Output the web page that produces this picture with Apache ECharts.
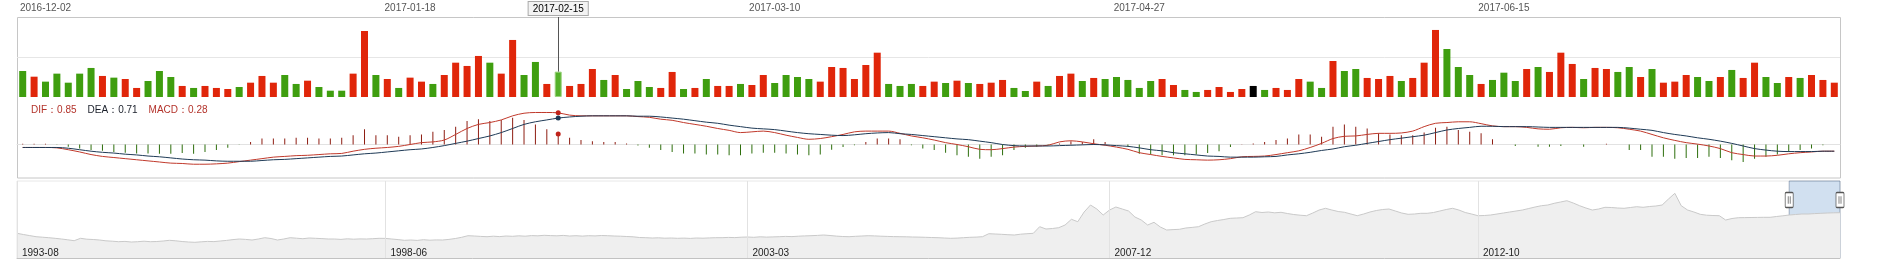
<!DOCTYPE html>
<html><head><meta charset="utf-8">
<script src="https://cdn.jsdelivr.net/npm/echarts@6/dist/echarts.min.js"></script>
<style>html,body{margin:0;padding:0;background:#fff}#c{width:1881px;height:280px}</style>
</head><body><div id="c"></div>
<script>
// ---------- data ----------
const dates = [
'2016-11-30',
'2016-12-01','2016-12-02','2016-12-05','2016-12-06','2016-12-07','2016-12-08','2016-12-09','2016-12-12','2016-12-13','2016-12-14','2016-12-15','2016-12-16','2016-12-19','2016-12-20','2016-12-21','2016-12-22','2016-12-23','2016-12-26','2016-12-27','2016-12-28','2016-12-29','2016-12-30',
'2017-01-03','2017-01-04','2017-01-05','2017-01-06','2017-01-09','2017-01-10','2017-01-11','2017-01-12','2017-01-13','2017-01-16','2017-01-17','2017-01-18','2017-01-19','2017-01-20','2017-01-23','2017-01-24','2017-01-25','2017-01-26',
'2017-02-03','2017-02-06','2017-02-07','2017-02-08','2017-02-09','2017-02-10','2017-02-13','2017-02-14','2017-02-15','2017-02-16','2017-02-17','2017-02-20','2017-02-21','2017-02-22','2017-02-23','2017-02-24','2017-02-27','2017-02-28',
'2017-03-01','2017-03-02','2017-03-03','2017-03-06','2017-03-07','2017-03-08','2017-03-09','2017-03-10','2017-03-13','2017-03-14','2017-03-15','2017-03-16','2017-03-17','2017-03-20','2017-03-21','2017-03-22','2017-03-23','2017-03-24','2017-03-27','2017-03-28','2017-03-29','2017-03-30','2017-03-31',
'2017-04-05','2017-04-06','2017-04-07','2017-04-10','2017-04-11','2017-04-12','2017-04-13','2017-04-14','2017-04-17','2017-04-18','2017-04-19','2017-04-20','2017-04-21','2017-04-24','2017-04-25','2017-04-26','2017-04-27','2017-04-28',
'2017-05-02','2017-05-03','2017-05-04','2017-05-05','2017-05-08','2017-05-09','2017-05-10','2017-05-11','2017-05-12','2017-05-15','2017-05-16','2017-05-17','2017-05-18','2017-05-19','2017-05-22','2017-05-23','2017-05-24','2017-05-25','2017-05-26','2017-05-31',
'2017-06-01','2017-06-02','2017-06-05','2017-06-06','2017-06-07','2017-06-08','2017-06-09','2017-06-12','2017-06-13','2017-06-14','2017-06-15','2017-06-16','2017-06-19','2017-06-20','2017-06-21','2017-06-22','2017-06-23','2017-06-26','2017-06-27','2017-06-28','2017-06-29','2017-06-30',
'2017-07-03','2017-07-04','2017-07-05','2017-07-06','2017-07-07','2017-07-10','2017-07-11','2017-07-12','2017-07-13','2017-07-14','2017-07-17','2017-07-18','2017-07-19','2017-07-20','2017-07-21','2017-07-24','2017-07-25','2017-07-26'
];

const volume = [
32.5,25.4,19.2,29.2,17.9,29.2,36.3,26.3,24.2,22.5,
11.3,20.0,32.5,25.0,13.8,11.3,13.8,11.3,10.0,12.5,
17.9,26.3,17.9,27.5,16.3,20.4,12.5,7.9,7.9,29.2,
82.5,27.5,22.5,11.3,24.2,19.2,16.3,27.5,42.9,38.8,
51.3,42.9,29.2,71.3,27.5,43.8,16.3,31.7,13.8,16.3,
35.0,21.3,27.5,10.0,20.0,12.5,11.3,31.3,10.0,11.3,
22.5,13.8,13.8,16.3,15.0,27.5,17.5,27.5,25.0,22.5,
19.2,37.5,36.3,22.5,40.0,55.4,16.3,13.8,16.3,13.8,
19.2,17.5,20.4,17.5,16.3,17.9,21.3,11.3,7.5,19.2,
13.8,26.3,29.2,20.0,23.8,22.5,25.0,21.3,11.3,20.0,
22.5,15.0,8.8,6.3,8.8,12.5,6.3,10.0,13.8,8.8,
11.3,8.8,22.5,19.2,11.3,45.0,32.5,35.0,23.8,22.5,
26.3,20.0,23.8,42.9,83.8,60.0,37.5,27.5,16.3,21.3,
30.4,20.0,35.0,37.5,31.3,55.4,41.3,22.5,36.3,35.0,
31.3,37.5,25.0,35.0,17.9,19.2,27.5,25.0,20.0,25.0,
33.8,23.8,42.9,25.0,17.5,25.0,23.8,27.5,21.3,17.9
];

// 1 = up day, -1 = down day, 0 = unchanged
const direction = [
-1,1,-1,-1,-1,-1,-1,1,-1,1,
1,-1,-1,-1,1,-1,1,1,1,-1,
1,1,1,-1,-1,1,-1,-1,-1,1,
1,-1,1,-1,1,1,-1,1,1,1,
1,-1,1,1,-1,-1,1,-1,1,1,
1,-1,1,-1,-1,-1,1,1,-1,1,
-1,1,1,-1,1,1,-1,-1,-1,-1,
1,1,1,1,1,1,-1,-1,-1,1,
1,-1,1,-1,1,1,1,-1,-1,1,
-1,1,1,-1,1,-1,-1,-1,-1,-1,
1,1,-1,-1,1,1,1,1,0,-1,
1,1,1,-1,-1,1,-1,-1,1,1,
1,-1,1,1,1,-1,-1,-1,1,-1,
-1,-1,1,-1,1,1,1,-1,1,1,
-1,-1,1,-1,1,1,1,-1,-1,1,
-1,1,1,-1,-1,1,-1,1,1,1
];

const dif = [
-0.08,-0.08,-0.08,-0.09,-0.14,-0.20,-0.27,-0.32,-0.35,-0.38,
-0.41,-0.44,-0.47,-0.50,-0.51,-0.53,-0.53,-0.52,-0.50,-0.46,
-0.42,-0.38,-0.34,-0.32,-0.30,-0.29,-0.27,-0.25,-0.24,-0.18,
-0.13,-0.10,-0.08,-0.05,0.00,0.05,0.07,0.12,0.27,0.43,
0.54,0.59,0.66,0.77,0.84,0.86,0.86,0.85,0.79,0.77,
0.77,0.77,0.77,0.77,0.75,0.73,0.68,0.65,0.59,0.54,
0.49,0.43,0.38,0.32,0.34,0.36,0.32,0.25,0.19,0.14,
0.16,0.21,0.27,0.34,0.36,0.36,0.36,0.30,0.23,0.18,
0.12,0.05,0.00,-0.06,-0.13,-0.14,-0.11,-0.07,-0.05,-0.04,
-0.02,0.07,0.10,0.07,0.02,-0.02,-0.07,-0.13,-0.22,-0.27,
-0.32,-0.36,-0.40,-0.41,-0.42,-0.41,-0.38,-0.33,-0.32,-0.31,
-0.27,-0.22,-0.17,-0.08,0.03,0.16,0.22,0.23,0.27,0.30,
0.30,0.31,0.36,0.48,0.57,0.59,0.61,0.61,0.56,0.50,
0.48,0.48,0.46,0.42,0.41,0.45,0.46,0.45,0.46,0.46,
0.45,0.41,0.36,0.27,0.18,0.11,0.05,0.01,-0.04,-0.11,
-0.22,-0.27,-0.31,-0.31,-0.29,-0.25,-0.22,-0.20,-0.18,-0.18
];

const dea = [
-0.08,-0.08,-0.08,-0.08,-0.10,-0.14,-0.18,-0.21,-0.23,-0.26,
-0.28,-0.31,-0.33,-0.36,-0.39,-0.41,-0.42,-0.44,-0.45,-0.45,
-0.45,-0.43,-0.41,-0.40,-0.38,-0.36,-0.34,-0.32,-0.31,-0.28,
-0.25,-0.23,-0.20,-0.17,-0.14,-0.12,-0.08,-0.03,0.03,0.09,
0.16,0.23,0.32,0.43,0.54,0.61,0.66,0.71,0.74,0.76,
0.77,0.77,0.77,0.77,0.76,0.76,0.74,0.71,0.68,0.64,
0.60,0.57,0.52,0.48,0.44,0.42,0.40,0.36,0.32,0.29,
0.27,0.25,0.24,0.26,0.29,0.31,0.32,0.29,0.27,0.24,
0.21,0.18,0.15,0.13,0.09,0.05,0.00,-0.03,-0.04,-0.04,
-0.04,-0.03,-0.02,-0.01,0.00,-0.01,-0.03,-0.05,-0.09,-0.14,
-0.17,-0.22,-0.25,-0.28,-0.31,-0.32,-0.34,-0.34,-0.34,-0.33,
-0.32,-0.28,-0.25,-0.21,-0.16,-0.12,-0.06,-0.02,0.03,0.08,
0.13,0.17,0.21,0.25,0.32,0.39,0.43,0.46,0.49,0.49,
0.48,0.48,0.48,0.47,0.46,0.46,0.46,0.46,0.46,0.46,
0.46,0.44,0.41,0.38,0.32,0.27,0.23,0.18,0.14,0.09,
0.03,-0.04,-0.11,-0.15,-0.18,-0.19,-0.19,-0.19,-0.18,-0.18
];

const macd = [
0.02,0.02,0.02,-0.01,-0.06,-0.11,-0.15,-0.17,-0.20,-0.22,
-0.24,-0.24,-0.25,-0.25,-0.23,-0.25,-0.20,-0.15,-0.09,-0.01,
0.07,0.16,0.16,0.16,0.18,0.18,0.16,0.16,0.18,0.25,
0.41,0.25,0.25,0.21,0.25,0.27,0.34,0.39,0.48,0.63,
0.68,0.63,0.66,0.72,0.66,0.54,0.41,0.28,0.18,0.12,
0.09,0.07,0.07,0.03,-0.03,-0.09,-0.15,-0.20,-0.24,-0.24,
-0.27,-0.27,-0.29,-0.29,-0.24,-0.22,-0.22,-0.24,-0.27,-0.29,
-0.27,-0.14,-0.07,-0.02,0.07,0.16,0.16,0.14,-0.02,-0.11,
-0.15,-0.22,-0.29,-0.33,-0.38,-0.33,-0.29,-0.15,-0.09,-0.06,
-0.02,0.03,0.09,0.07,0.14,0.07,0.00,-0.06,-0.25,-0.27,
-0.29,-0.29,-0.29,-0.27,-0.23,-0.18,-0.07,0.01,0.03,0.07,
0.12,0.16,0.27,0.27,0.21,0.48,0.54,0.48,0.43,0.30,
0.27,0.25,0.25,0.32,0.45,0.48,0.39,0.34,0.30,0.14,
0.00,-0.04,0.00,-0.06,-0.06,-0.04,0.00,-0.06,0.00,0.02,
0.00,-0.15,-0.15,-0.33,-0.33,-0.38,-0.36,-0.36,-0.33,-0.36,
-0.42,-0.47,-0.38,-0.33,-0.27,-0.20,-0.15,-0.11,-0.02,0.00
];

// navigator: monthly closes from 1993-08
const navStart = '1993-08';
const navClose = [
247,235,224,213,208,203,197,190,182,173,197,188,
185,180,172,168,163,166,160,163,168,163,165,170,
177,172,165,160,157,162,166,164,170,176,184,190,
186,180,190,203,195,180,190,203,198,193,200,197,
194,190,190,186,192,188,191,190,193,197,196,190,
184,177,180,176,183,178,181,180,186,195,207,223,
220,216,213,218,214,220,217,222,218,224,222,227,
224,222,226,220,223,219,223,221,225,223,220,218,
215,212,205,203,200,202,198,200,197,199,196,200,
198,201,203,203,206,204,208,210,207,212,209,211,
213,216,214,218,221,223,226,230,225,219,215,213,
217,220,223,221,218,216,214,213,212,210,209,207,
205,203,200,197,199,203,207,209,213,243,240,237,
233,230,238,243,247,313,290,295,303,330,387,363,
460,530,490,430,480,510,490,470,410,380,330,357,
310,280,284,287,300,306,313,340,363,375,385,397,
400,403,430,463,455,460,452,457,445,435,428,423,
450,480,497,480,465,457,440,423,440,460,475,485,
490,470,450,437,440,447,447,455,470,485,497,480,
455,440,423,425,430,440,450,460,470,480,495,510,
523,530,547,560,573,550,523,500,480,490,507,505,
500,497,505,513,507,515,520,530,590,647,523,480,
460,437,428,425,423,380,395,403,404,405,406,407,
407,415,422,430,435,440,440,444,447,450,452,453
];
const navLabels = ['1993-08','1998-06','2003-03','2007-12','2012-10'];
const windowStart = '2016-11', windowEnd = '2017-07';

const topLabelStart = 2, topLabelStep = 32;
const pointerIndex = 47, pointerLabel = '2017-02-15';

// ---------- derived ----------
const navMonths = [];
{
  let y = +navStart.slice(0,4), m = +navStart.slice(5,7);
  for (let i = 0; i < navClose.length; i++) {
    navMonths.push(y + '-' + String(m).padStart(2,'0'));
    m++; if (m > 12) { m = 1; y++; }
  }
}

const FONT = '"Liberation Sans", Arial, sans-serif';
const RED = '#e0260a', GREEN = '#3f9e0f', FLAT = '#000000';
const DIF_C = '#c0392b', DEA_C = '#1e3a56';
const VOL_MAX = 100;

const volData = volume.map((v, i) => {
  const c = direction[i] > 0 ? RED : direction[i] < 0 ? GREEN : FLAT;
  const item = { value: v, itemStyle: { color: c } };
  if (i === pointerIndex) item.itemStyle = { color: '#54b12a', borderColor: '#9bd27e', borderWidth: 1 };
  return item;
});
const macdData = macd.map(v => ({ value: v, itemStyle: { color: v >= 0 ? '#8e1d12' : '#2d6e0c' } }));

const p = pointerIndex;
const chart = echarts.init(document.getElementById('c'), null, { renderer: 'canvas' });
chart.setOption({
  animation: false,
  textStyle: { fontFamily: FONT },
  title: {
    left: 26, top: 100,
    text: '{a|DIF：' + dif[p].toFixed(2) + '}{b|DEA：' + dea[p].toFixed(2) + '}{c|MACD：' + macd[p].toFixed(2) + '}',
    textStyle: {
      fontSize: 10, fontWeight: 'normal', fontFamily: FONT,
      rich: {
        a: { color: '#b3322a', fontSize: 10, fontFamily: FONT },
        b: { color: '#1a1f2a', fontSize: 10, fontFamily: FONT, padding: [0, 0, 0, 11] },
        c: { color: '#b3322a', fontSize: 10, fontFamily: FONT, padding: [0, 0, 0, 11] }
      }
    }
  },
  graphic: [{
    type: 'rect', silent: true, z: 0,
    shape: { x: 17.5, y: 17.5, width: 1823, height: 160.5 },
    style: { fill: 'none', stroke: '#c6c6c6', lineWidth: 1 }
  }],
  grid: [
    { left: 17, right: 41, top: 17, height: 80 },
    { left: 17, right: 41, top: 111, height: 67 },
    { left: 17, right: 41, top: 181, height: 77, show: true, borderColor: '#e8e8e8', borderWidth: 1 }
  ],
  xAxis: [
    { type: 'category', gridIndex: 0, data: dates, position: 'top', boundaryGap: true,
      axisLine: { show: false }, axisTick: { show: false }, splitLine: { show: false },
      axisLabel: { interval: (i) => (i - topLabelStart) % topLabelStep === 0, color: '#555', fontSize: 10, margin: 4, fontFamily: FONT } },
    { type: 'category', gridIndex: 1, data: dates, boundaryGap: true,
      axisLine: { onZero: true, lineStyle: { color: '#e2e2e2', width: 1 } }, axisTick: { show: false },
      axisLabel: { show: false }, splitLine: { show: false } },
    { type: 'category', gridIndex: 2, data: navMonths, boundaryGap: false, z: 10,
      axisLine: { lineStyle: { color: '#c2c2c2' } }, axisTick: { show: false },
      axisLabel: { inside: true, interval: (i, v) => navLabels.includes(v), color: '#222', fontSize: 10,
        align: 'left', verticalAlign: 'bottom', padding: [0, 0, 0, 5], margin: 0, fontFamily: FONT },
      splitLine: { show: true, interval: (i, v) => navLabels.includes(v), lineStyle: { color: '#e2e2e2' } } }
  ],
  yAxis: [
    { type: 'value', gridIndex: 0, min: 0, max: VOL_MAX, interval: VOL_MAX / 2,
      axisLine: { show: false }, axisTick: { show: false }, axisLabel: { show: false },
      splitLine: { lineStyle: { color: ['rgba(0,0,0,0)', '#e6e6e6', 'rgba(0,0,0,0)'] } } },
    { type: 'value', gridIndex: 1, min: -0.9, max: 0.9, show: false },
    { type: 'value', gridIndex: 2, min: 0, max: 770, show: false }
  ],
  series: [
    { type: 'bar', name: 'volume', xAxisIndex: 0, yAxisIndex: 0, data: volData, barWidth: 7,
      markLine: {
        silent: true, symbol: ['none', 'none'], animation: false,
        lineStyle: { color: '#555', width: 1, type: 'solid' },
        label: { show: true, position: 'start', formatter: () => pointerLabel, distance: 2,
          color: '#000', fontSize: 10, fontFamily: FONT, backgroundColor: '#f3f3f3',
          borderColor: '#aaa', borderWidth: 1, padding: [2, 4, 1, 4] },
        data: [[{ coord: [dates[p], VOL_MAX] }, { coord: [dates[p], volume[p]] }]]
      } },
    { type: 'bar', name: 'MACD', xAxisIndex: 1, yAxisIndex: 1, data: macdData, barWidth: 1,
      markPoint: { silent: true, symbol: 'circle', symbolSize: 5, label: { show: false },
        itemStyle: { color: '#c0231a' }, data: [{ coord: [dates[p], macd[p]] }] } },
    { type: 'line', name: 'DIF', xAxisIndex: 1, yAxisIndex: 1, data: dif, showSymbol: false, smooth: 0.3,
      lineStyle: { color: DIF_C, width: 1 }, itemStyle: { color: DIF_C },
      markPoint: { silent: true, symbol: 'circle', symbolSize: 5, label: { show: false },
        itemStyle: { color: '#c0231a' }, data: [{ coord: [dates[p], dif[p]] }] } },
    { type: 'line', name: 'DEA', xAxisIndex: 1, yAxisIndex: 1, data: dea, showSymbol: false, smooth: 0.3,
      lineStyle: { color: DEA_C, width: 1 }, itemStyle: { color: DEA_C },
      markPoint: { silent: true, symbol: 'circle', symbolSize: 5, label: { show: false },
        itemStyle: { color: DEA_C }, data: [{ coord: [dates[p], dea[p]] }] } },
    { type: 'line', name: 'nav', xAxisIndex: 2, yAxisIndex: 2, data: navClose, showSymbol: false, z: 1,
      lineStyle: { color: '#c9c9c9', width: 1 }, areaStyle: { color: '#efefef', opacity: 1 },
      markArea: { silent: true,
        itemStyle: { color: 'rgba(102,153,204,0.3)', borderColor: 'rgba(100,120,150,0.55)', borderWidth: 1 },
        data: [[{ xAxis: windowStart }, { xAxis: windowEnd }]] },
      markPoint: { silent: true,
        symbol: 'path://M1,0H7Q8,0 8,1V15Q8,16 7,16H1Q0,16 0,15V1Q0,0 1,0Z M3,4V12 M5,4V12',
        symbolSize: [8, 15], label: { show: false },
        itemStyle: { color: '#fff', borderColor: '#555', borderWidth: 1 },
        data: [{ coord: [windowStart, 580] }, { coord: [windowEnd, 580] }] } }
  ]
});
</script>
</body></html>
